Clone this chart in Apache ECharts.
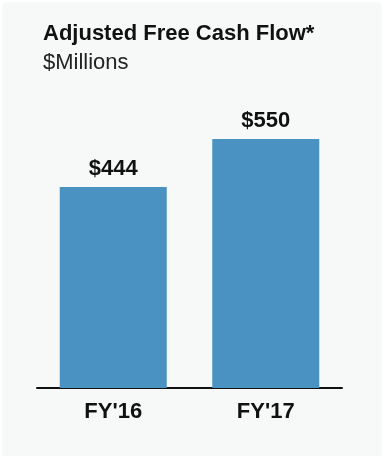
<!DOCTYPE html>
<html>
<head>
<meta charset="utf-8">
<script src="https://cdn.jsdelivr.net/npm/echarts@6/dist/echarts.min.js"></script>
<style>html,body{margin:0;padding:0;background:#fff}#c{width:384px;height:459px}</style>
</head>
<body>
<div id="c"></div>
<script>
const categories = ["FY'16", "FY'17"];
const values = [444, 550];
const titleText = "Adjusted Free Cash Flow*";
const subtitleText = "$Millions";

const chart = echarts.init(document.getElementById('c'), null, {renderer: 'canvas'});
chart.setOption({
  backgroundColor: '#ffffff',
  animation: false,
  graphic: [{
    type: 'rect', z: -10, silent: true,
    shape: {x: 2, y: 2, width: 380, height: 454, r: 3},
    style: {fill: '#f7f9f9'}
  }],
  title: {
    text: titleText,
    subtext: subtitleText,
    left: 38, top: 18,
    itemGap: 7,
    textStyle: {fontFamily: 'Liberation Sans, Arial, sans-serif', fontWeight: 'bold', fontSize: 22, color: '#111'},
    subtextStyle: {fontFamily: 'Liberation Sans, Arial, sans-serif', fontSize: 22, color: '#222'}
  },
  grid: {left: 37, right: 42, top: 116.4, height: 271.6},
  xAxis: {
    type: 'category',
    data: categories,
    axisLine: {lineStyle: {color: '#111', width: 2}},
    axisTick: {show: false},
    axisLabel: {fontFamily: 'Liberation Sans, Arial, sans-serif', fontWeight: 'bold', fontSize: 22, color: '#111', margin: 13}
  },
  yAxis: {
    type: 'value', min: 0, max: 600, show: false
  },
  series: [{
    type: 'bar',
    data: values,
    barWidth: 107,
    itemStyle: {color: '#4a92c2'},
    label: {
      show: true, position: 'top', distance: 7,
      formatter: p => '$' + p.value,
      fontFamily: 'Liberation Sans, Arial, sans-serif', fontWeight: 'bold', fontSize: 22, color: '#111'
    }
  }]
});
</script>
</body>
</html>
